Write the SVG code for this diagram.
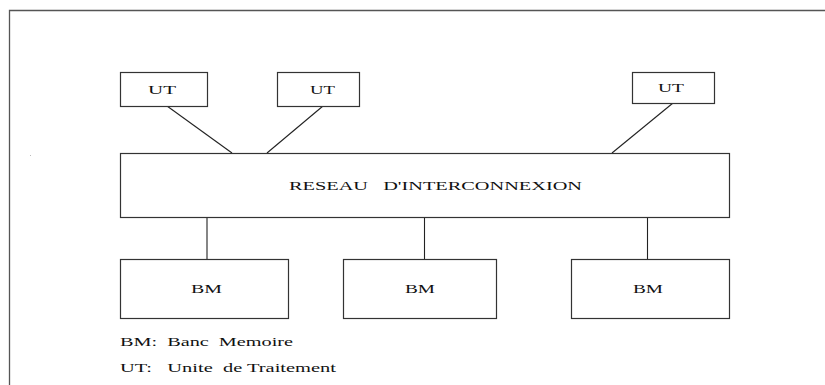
<svg xmlns="http://www.w3.org/2000/svg" width="825" height="385" viewBox="0 0 825 385">
<style>
.box{fill:#fff;stroke:#333;stroke-width:1.2}
.ln{stroke:#222;stroke-width:1.1;fill:none}
.frame{stroke:#555;stroke-width:1.3;fill:none}
.t{font-family:'Liberation Serif','DejaVu Serif',serif;font-size:11.5px;fill:#111}
</style>
<rect width="825" height="385" fill="#fff"/>
<path class="frame" d="M9.5,385 V10.5 H825"/>
<rect x="30" y="155" width="1" height="1" fill="#bbb"/>
<g id="connectors">
<line class="ln" x1="167" y1="106" x2="232" y2="153"/>
<line class="ln" x1="323" y1="106" x2="267" y2="153"/>
<line class="ln" x1="673" y1="103" x2="612" y2="153"/>
<line class="ln" x1="207" y1="217" x2="207" y2="259"/>
<line class="ln" x1="424.5" y1="217" x2="424.5" y2="259"/>
<line class="ln" x1="647.5" y1="217" x2="647.5" y2="259"/>
</g>
<g id="ut1"><rect class="box" x="120.5" y="72.5" width="87" height="34"/><text class="t" font-family="Liberation Serif, serif" x="148" y="94" textLength="28" lengthAdjust="spacingAndGlyphs">UT</text></g>
<g id="ut2"><rect class="box" x="277.5" y="72.5" width="82" height="34"/><text class="t" font-family="Liberation Serif, serif" x="310" y="94" textLength="25" lengthAdjust="spacingAndGlyphs">UT</text></g>
<g id="ut3"><rect class="box" x="632.5" y="72.5" width="82" height="31"/><text class="t" font-family="Liberation Serif, serif" x="658" y="92" textLength="26" lengthAdjust="spacingAndGlyphs">UT</text></g>
<g id="reseau"><rect class="box" x="120.5" y="153.5" width="609" height="64"/><text class="t" font-family="Liberation Serif, serif" x="289" y="190" xml:space="preserve" textLength="293" lengthAdjust="spacingAndGlyphs">RESEAU   D'INTERCONNEXION</text></g>
<g id="bm1"><rect class="box" x="120.5" y="259.5" width="168" height="59"/><text class="t" font-family="Liberation Serif, serif" x="191" y="293" textLength="31" lengthAdjust="spacingAndGlyphs">BM</text></g>
<g id="bm2"><rect class="box" x="343.5" y="259.5" width="153" height="59"/><text class="t" font-family="Liberation Serif, serif" x="405" y="293" textLength="30" lengthAdjust="spacingAndGlyphs">BM</text></g>
<g id="bm3"><rect class="box" x="571.5" y="259.5" width="158" height="59"/><text class="t" font-family="Liberation Serif, serif" x="633" y="293" textLength="30" lengthAdjust="spacingAndGlyphs">BM</text></g>
<g id="legend">
<text class="t" font-family="Liberation Serif, serif" x="120" y="346" xml:space="preserve" textLength="173" lengthAdjust="spacingAndGlyphs">BM:  Banc  Memoire</text>
<text class="t" font-family="Liberation Serif, serif" x="120" y="372" xml:space="preserve" textLength="216" lengthAdjust="spacingAndGlyphs">UT:   Unite  de Traitement</text>
</g>
</svg>
